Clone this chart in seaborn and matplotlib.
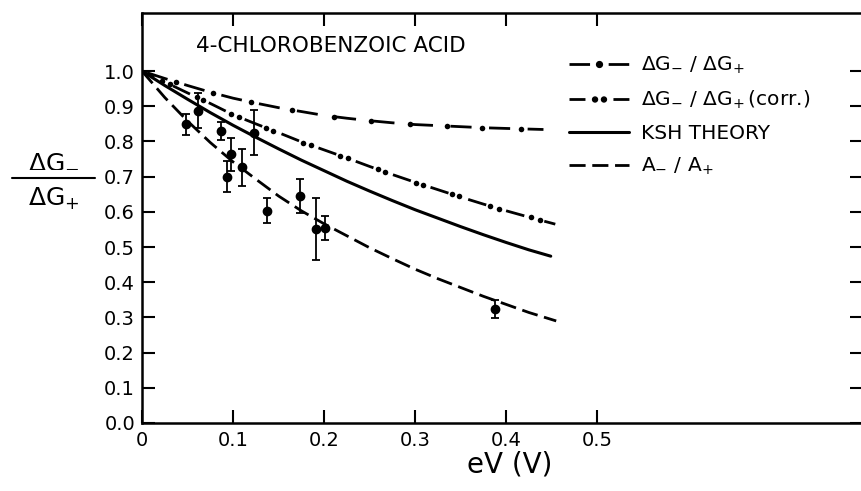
import numpy as np
import pandas as pd
import matplotlib
matplotlib.use("Agg")
import matplotlib.pyplot as plt
import seaborn as sns
from matplotlib.lines import Line2D
from matplotlib.path import Path
from matplotlib.legend_handler import HandlerTuple

# ---------------- data ----------------
# dash-dot curve: dG-/dG+
c1_x = [0.0, 0.025, 0.05, 0.075, 0.10, 0.125, 0.15, 0.175, 0.20, 0.225, 0.25,
        0.275, 0.30, 0.325, 0.35, 0.375, 0.40, 0.441]
c1_y = [1.0, 0.979, 0.959, 0.940, 0.923, 0.909, 0.896, 0.885, 0.874, 0.866, 0.859,
        0.853, 0.848, 0.845, 0.842, 0.839, 0.837, 0.834]
c1_dot_x = [0.037, 0.078, 0.120, 0.165, 0.211, 0.252, 0.294, 0.335, 0.374, 0.416]
c1_dot_y = [0.969, 0.938, 0.912, 0.889, 0.870, 0.858, 0.849, 0.844, 0.839, 0.836]

# dash-dot-dot curve: dG-/dG+ (corr.)
c2_x = [0.0, 0.025, 0.05, 0.075, 0.10, 0.125, 0.15, 0.175, 0.20, 0.225, 0.25,
        0.275, 0.30, 0.325, 0.35, 0.375, 0.40, 0.425, 0.454]
c2_y = [1.0, 0.969, 0.938, 0.908, 0.876, 0.850, 0.825, 0.799, 0.776, 0.753, 0.729,
        0.706, 0.684, 0.663, 0.642, 0.622, 0.603, 0.585, 0.565]
c2_dot_x = [0.022, 0.031, 0.060, 0.067, 0.098, 0.107, 0.136, 0.144, 0.177, 0.186,
            0.218, 0.226, 0.259, 0.267, 0.301, 0.309, 0.340, 0.348, 0.382, 0.392,
            0.427, 0.437]
c2_dot_y = [0.973, 0.962, 0.926, 0.918, 0.879, 0.869, 0.839, 0.831, 0.797, 0.789,
            0.759, 0.752, 0.721, 0.713, 0.683, 0.676, 0.650, 0.644, 0.617, 0.609,
            0.584, 0.576]

# KSH theory (solid)
ksh_x = [0.0, 0.025, 0.05, 0.075, 0.10, 0.125, 0.15, 0.175, 0.20, 0.225, 0.25,
         0.275, 0.30, 0.325, 0.35, 0.375, 0.40, 0.425, 0.449]
ksh_y = [1.0, 0.959, 0.920, 0.882, 0.846, 0.812, 0.779, 0.747, 0.717, 0.687, 0.659,
         0.632, 0.606, 0.582, 0.558, 0.535, 0.513, 0.492, 0.474]

# A-/A+ (dashed)
a_x = [0.0, 0.025, 0.05, 0.075, 0.10, 0.125, 0.15, 0.175, 0.20, 0.225, 0.25,
       0.275, 0.30, 0.325, 0.35, 0.375, 0.40, 0.425, 0.455]
a_y = [1.0, 0.925, 0.858, 0.797, 0.742, 0.693, 0.645, 0.603, 0.566, 0.532, 0.498,
       0.467, 0.437, 0.410, 0.385, 0.360, 0.337, 0.314, 0.290]

# experimental points with error bars
pt_x = [0.048, 0.062, 0.087, 0.093, 0.098, 0.110, 0.123, 0.137, 0.174, 0.191, 0.201, 0.388]
pt_y = [0.849, 0.887, 0.830, 0.700, 0.763, 0.726, 0.825, 0.603, 0.645, 0.551, 0.553, 0.324]
pt_err = [0.030, 0.050, 0.025, 0.044, 0.048, 0.053, 0.063, 0.035, 0.047, 0.089, 0.034, 0.025]

x_ticks = [0.0, 0.1, 0.2, 0.3, 0.4, 0.5]
x_tick_labels = ["0", "0.1", "0.2", "0.3", "0.4", "0.5"]
y_ticks = [0.0, 0.1, 0.2, 0.3, 0.4, 0.5, 0.6, 0.7, 0.8, 0.9, 1.0]
y_tick_labels = ["0.0", "0.1", "0.2", "0.3", "0.4", "0.5", "0.6", "0.7", "0.8", "0.9", "1.0"]

labels = [r"$\Delta G_{-}\ /\ \Delta G_{+}$",
          r"$\Delta G_{-}\ /\ \Delta G_{+}\,$(corr.)",
          "KSH THEORY",
          r"$A_{-}\ /\ A_{+}$"]
title_text = "4-CHLOROBENZOIC ACID"

# ---------------- style ----------------
sns.set_style("ticks")
plt.rcParams["font.family"] = ["DejaVu Sans"]
plt.rcParams["mathtext.fontset"] = "dejavusans"
plt.rcParams["mathtext.default"] = "regular"

W, H = 862, 491
fig = plt.figure(figsize=(W / 100, H / 100), dpi=100)
ax = fig.add_axes([142 / W, (H - 423) / H, (863 - 142) / W, (423 - 13) / H])

LW = 2.0
k = "black"

df1 = pd.DataFrame({"x": c1_x, "y": c1_y})
df2 = pd.DataFrame({"x": c2_x, "y": c2_y})
df3 = pd.DataFrame({"x": ksh_x, "y": ksh_y})
df4 = pd.DataFrame({"x": a_x, "y": a_y})

sns.lineplot(data=df1, x="x", y="y", ax=ax, color=k, linewidth=LW)
ax.lines[-1].set_linestyle((11.85, (7.6, 6.3)))
sns.lineplot(data=df2, x="x", y="y", ax=ax, color=k, linewidth=LW)
ax.lines[-1].set_linestyle((1.9, (6.8, 7.45)))
sns.lineplot(data=df3, x="x", y="y", ax=ax, color=k, linewidth=2.2)
sns.lineplot(data=df4, x="x", y="y", ax=ax, color=k, linewidth=LW)
ax.lines[-1].set_linestyle((0, (5.8, 2.4)))

sns.scatterplot(x=c1_dot_x, y=c1_dot_y, ax=ax, color=k, s=16, edgecolor=k, linewidth=0, zorder=4)
sns.scatterplot(x=c2_dot_x, y=c2_dot_y, ax=ax, color=k, s=16, edgecolor=k, linewidth=0, zorder=4)

ax.errorbar(pt_x, pt_y, yerr=pt_err, fmt="o", color=k, ms=6.0, capsize=2.6,
            elinewidth=1.3, capthick=1.3, zorder=5)

ax.set_xlim(0, 0.792)
ax.set_ylim(0, 1.165)
ax.set_xticks(x_ticks)
ax.set_xticklabels(x_tick_labels)
ax.set_yticks(y_ticks)
ax.set_yticklabels(y_tick_labels)
ax.set_xlabel("")
ax.set_ylabel("")
for s in ax.spines.values():
    s.set_linewidth(1.8)
    s.set_color(k)
ax.tick_params(axis="both", direction="in", length=9.4, width=1.5, colors=k,
               top=True, right=True, labelsize=14)
ax.tick_params(axis="x", pad=6.0)
ax.tick_params(axis="y", pad=5.0)

# title inside plot
ax.text((196 - 142) / (863 - 142), 1 - (46 - 13) / (423 - 13),
        title_text, transform=ax.transAxes, ha="left", va="center", fontsize=15.5, color=k)

# x label
fig.text(510 / W, 1 - 464 / H, "eV (V)", ha="center", va="center", fontsize=20, color=k)

# y label as a fraction
fig.text(54 / W, 1 - 160 / H, r"$\Delta G_{-}$", ha="center", va="center", fontsize=18, color=k)
fig.text(54 / W, 1 - 199 / H, r"$\Delta G_{+}$", ha="center", va="center", fontsize=18, color=k)
fig.add_artist(Line2D([12 / W, 95 / W], [1 - 178 / H, 1 - 178 / H], color=k, lw=1.5,
                      transform=fig.transFigure))

# legend
two_dots = Path.make_compound_path(Path.circle((-1.8, 0), 1.0), Path.circle((1.8, 0), 1.0))
h1 = (Line2D([], [], color=k, lw=LW, linestyle=(0, (7.4, 6.7))),
      Line2D([], [], color=k, ls="none", marker="o", ms=4.2))
h2 = (Line2D([], [], color=k, lw=LW, linestyle=(0, (5.75, 10.07))),
      Line2D([], [], color=k, ls="none", marker=two_dots, ms=10))
h3 = Line2D([], [], color=k, lw=2.2)
h4 = Line2D([], [], color=k, lw=LW, linestyle=(0, (5.8, 2.4)))
leg = ax.legend([h1, h2, h3, h4], labels, handler_map={tuple: HandlerTuple(ndivide=1, pad=0)},
                loc="upper left", bbox_to_anchor=(569 / W, 1 - 55 / H),
                bbox_transform=fig.transFigure, frameon=False, fontsize=14.5,
                handlelength=2.98, handletextpad=0.6, labelspacing=0.63,
                borderpad=0, borderaxespad=0)
for t in leg.get_texts():
    t.set_color(k)

fig.savefig("out.png", dpi=100)
